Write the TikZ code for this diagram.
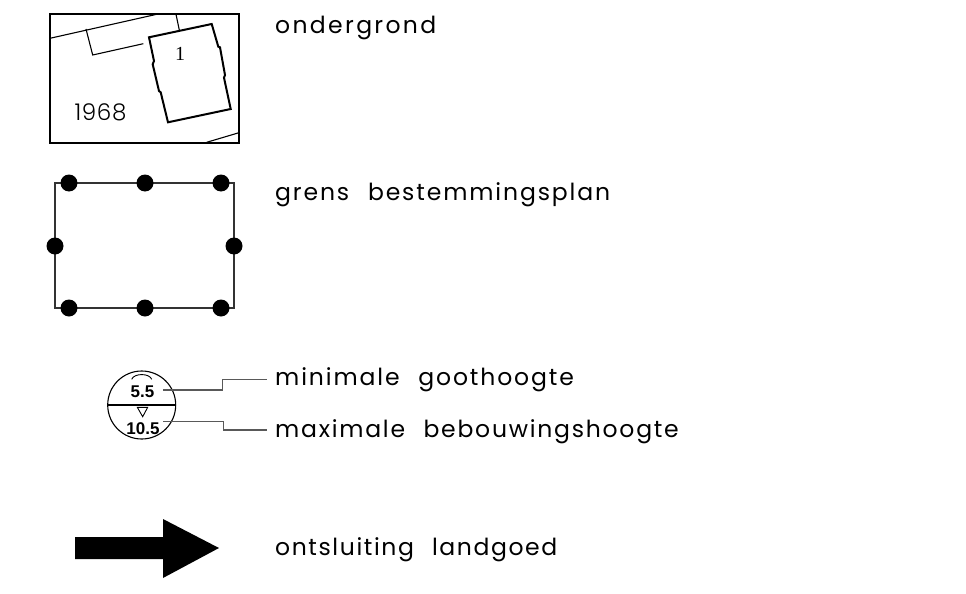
\documentclass[tikz,border=0pt]{standalone}
\usepackage{fontspec}
\setmainfont{Poppins}[LetterSpace=7.5,WordSpace=2.3]
\newfontfamily\numfont{Liberation Sans}
\newfontfamily\thinfont{Poppins Light}
\newfontfamily\serfont{Liberation Serif}
\begin{document}
\begin{tikzpicture}[x=1pt,y=-1pt,
  legendtext/.style={anchor=base west,inner sep=0pt,font=\fontsize{23.5}{26}\selectfont},
  thinline/.style={draw=black,line width=1.1pt},
  leader/.style={draw=black!65,line width=1.2pt},
  boundary/.style={draw=black!80,line width=1.2pt},
  dot/.style={circle,fill=black,draw=none,minimum size=17pt,inner sep=0pt},
  height/.style={inner sep=0pt,font=\numfont\bfseries\fontsize{17}{18}\selectfont}]
\useasboundingbox (0,0) rectangle (966,594);
% ondergrond
\draw[thinline] (50,14) rectangle (239,143);
\draw[thinline] (50,38.3) -- (156.7,14.3);
\draw[thinline] (86,29) -- (92.7,55) -- (143.3,43.7);
\draw[thinline] (176,14.3) -- (179.3,30);
\draw[thinline] (206.7,142.3) -- (239,132.7);
\draw[black,line width=2pt,line join=miter] (149,37.3) -- (211.7,24) -- (218.3,46.7) -- (220,47.3) -- (225,75) -- (224,77.7) -- (230.7,109) -- (168,122.3) -- (160.7,92.3) -- (159,91) -- (152.7,64.3) -- (154,61) -- cycle;
\node[inner sep=0pt] (lotno) at (180,53.5) {\serfont\fontsize{20}{21}\selectfont 1};
\node[inner sep=0pt] (year) at (100.5,112.5) {\thinfont\addfontfeature{LetterSpace=3}\fontsize{23}{25}\selectfont 1968};
\node[legendtext] (t1) at (275,34) {\addfontfeature{LetterSpace=10}ondergrond};
% grens
\draw[boundary] (55,183) rectangle (234,308);
\foreach \n/\x/\y in {a/69/183,b/145/183,c/221/183,d/55/246,e/234/246,f/69/308,g/145/308,h/221/308}
  \node[dot] (\n) at (\x,\y) {};
\node[legendtext] (t2) at (275,200) {\addfontfeature{LetterSpace=8}grens bestemmingsplan};
% height symbol
\node[circle,draw=black,line width=1.1pt,minimum size=68pt,inner sep=0pt] (sym) at (141.7,405) {};
\draw[black,line width=1.1pt] (sym.west) -- (sym.east);
\node[height] (low) at (142.5,392) {5.5};
\node[height] (high) at (143,428.5) {10.5};
\draw[black,line width=0.9pt] (131.7,379.3) .. controls (134,373) and (149.5,373) .. (151.7,379.3);
\draw[black,line width=0.9pt] (137.3,407.3) -- (147.7,407.3) -- (142.7,416.7) -- cycle;
\node[legendtext] (t3) at (275,385) {\addfontfeature{LetterSpace=8}minimale goothoogte};
\node[legendtext] (t4) at (275,437) {maximale bebouwingshoogte};
\coordinate (s1) at (163.3,390);
\coordinate (e1) at (266.7,379.3);
\coordinate (s2) at (163.3,421.7);
\coordinate (e2) at (266.7,430);
\draw[leader] (s1) -- (222.3,390) -- (222.3,379.3) -- (e1);
\draw[leader] (s2) -- (223.3,421.7) -- (223.3,430) -- (e2);
% arrow
\fill[black] (75,537) -- (163,537) -- (163,519) -- (219,548) -- (163,578) -- (163,559) -- (75,559) -- cycle;
\node[legendtext] (t5) at (275,555) {\addfontfeature{LetterSpace=6.8}ontsluiting landgoed};
\end{tikzpicture}
\end{document}
